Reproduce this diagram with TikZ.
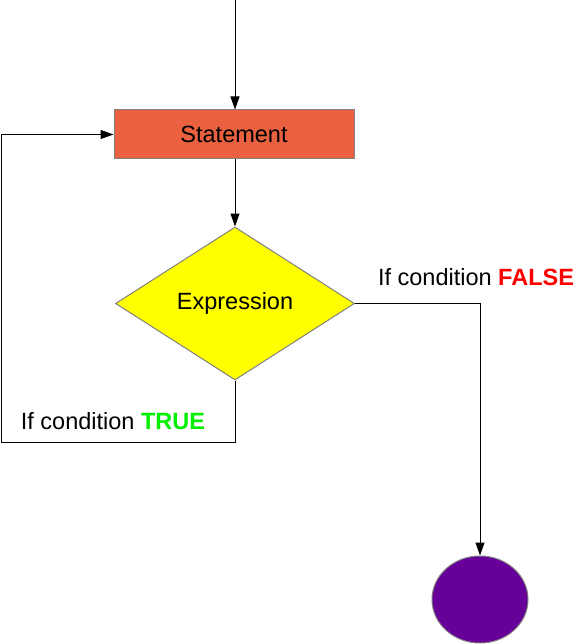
\documentclass[tikz,border=0pt]{standalone}
\usepackage{fontspec}
\setmainfont{Liberation Sans}
\usetikzlibrary{shapes.geometric,arrows.meta}
\definecolor{stmtred}{RGB}{233,97,63}
\definecolor{exprYellow}{RGB}{255,255,0}
\definecolor{endpurple}{RGB}{102,0,153}
\definecolor{truegreen}{RGB}{0,240,0}
\definecolor{falsered}{RGB}{255,0,0}
\newcommand{\cond}[2]{If condition \textbf{\color{#1}#2}}

\begin{document}
\begin{tikzpicture}[x=1pt,y=-1pt,
		font=\fontsize{23.5}{28}\selectfont,
		>={Triangle[length=13pt,width=9pt]},
		box/.style={draw=gray,line width=1pt,inner sep=0pt}]
		\useasboundingbox (0,0) rectangle (587,644);
		\begin{scope}[line width=1pt]
			\node[box,fill=stmtred,minimum width=240,minimum height=49] (stmt) at (234,134.5) {Statement};
			\node[box,diamond,aspect=1.56,fill=exprYellow,minimum width=239,minimum height=153] (expr) at (235,303.5) {Expression};
			\node[box,ellipse,fill=endpurple,minimum width=96,minimum height=87] (end) at (480,599.5) {};
	
			\coordinate (top) at (235,0);
			\coordinate (loop) at (1,442);
	
			\draw[->] (top) -- (top |- stmt.north);
			\draw[->] (expr.north |- stmt.south) -- (expr.north);
			\draw[->] (expr.east) -| (end.north);
			\draw[->] (expr.south) |- (loop) |- (stmt.west);
		
			\node (false) at (476,277) {\cond{falsered}{FALSE}};
			\node (true) at (113,421) {\cond{truegreen}{TRUE}};
		\end{scope}
	\end{tikzpicture}
\end{document}
